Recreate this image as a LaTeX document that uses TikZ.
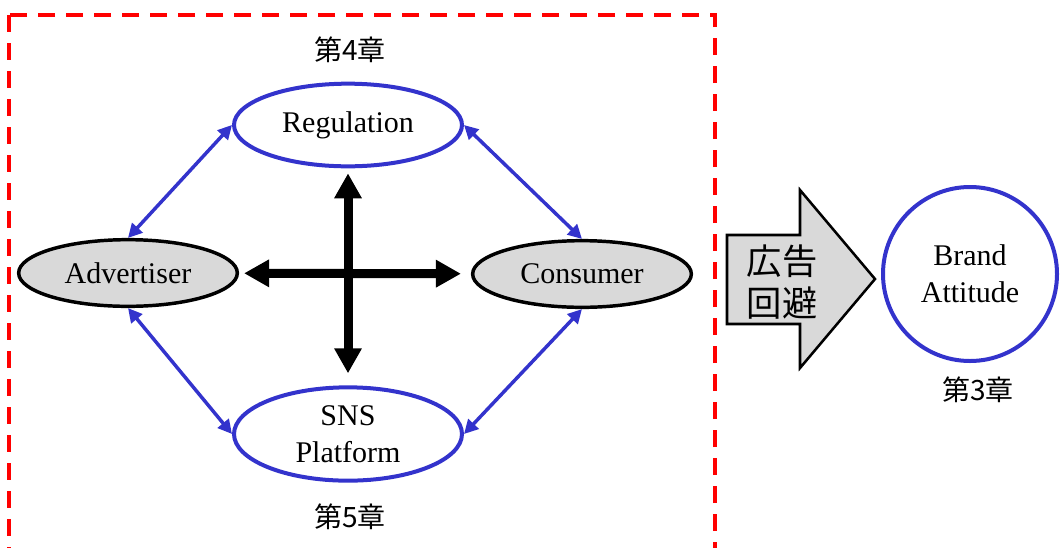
\documentclass[tikz,border=0pt]{standalone}
\usepackage{fontspec}
\setmainfont{Liberation Serif}
\newfontfamily\jpfont{Noto Sans CJK JP}
\usetikzlibrary{shapes.geometric,arrows.meta}

\definecolor{linkblue}{RGB}{51,51,204}
\definecolor{boxred}{RGB}{255,0,0}
\definecolor{agentgray}{RGB}{217,217,217}

\begin{document}
\begin{tikzpicture}[x=0.75pt,y=-0.75pt,
  txt/.style={font=\fontsize{22.5pt}{28pt}\selectfont, align=center},
  chap/.style={font=\jpfont\fontsize{21pt}{25pt}\selectfont, inner sep=0pt},
  bluering/.style={ellipse, draw=linkblue, line width=3pt, fill=white, inner sep=0pt, txt},
  agent/.style={ellipse, draw=black, line width=2.6pt, fill=agentgray, inner sep=0pt, txt,
    minimum width=164pt, minimum height=50pt},
  link/.style={draw=linkblue, line width=2.6pt,
    {Triangle[length=10.5pt,width=10.5pt]}-{Triangle[length=10.5pt,width=10.5pt]}},
  bigarrow/.style={draw=black, line width=6.75pt,
    {Triangle[length=18.75pt,width=19.5pt]}-{Triangle[length=18.75pt,width=19.5pt]}},
  blockarrow/.style={draw=black, fill=agentgray, line width=1.9pt, line join=miter},
  studyframe/.style={draw=boxred, line width=2.6pt, dash pattern=on 12.75pt off 8.25pt}
]
\clip (0,0) rectangle (1060,547);

% dashed frame around the four actors (open at the bottom)
\draw[studyframe] (9,15) rectangle (715,620);

% actors
\node[bluering, minimum width=171pt, minimum height=62pt] (reg) at (348,125) {Regulation};
\node[bluering, minimum width=171pt, minimum height=70pt] (sns) at (348,434) {SNS\\Platform};
\node[agent] (adv) at (128,273) {Advertiser};
\node[agent] (con) at (582,274) {Consumer};

% chapter labels
\node[chap] (ch4) at (350,50) {第4章};
\node[chap] (ch5) at (350,517) {第5章};

% mutual influences
\draw[link] (reg.west) -- (adv.north);
\draw[link] (reg.east) -- (con.north);
\draw[link] (adv.south) -- (sns.west);
\draw[link] (con.south) -- (sns.east);

\draw[bigarrow, shorten <=3.75pt, shorten >=9pt] (reg) -- (sns);
\draw[bigarrow, shorten <=3.75pt, shorten >=7.5pt] (adv) -- (con);

% ad avoidance leading to brand attitude
\draw[blockarrow] (727,235) -- (800,235) -- (800,190) -- (875,279)
  -- (800,368) -- (800,324) -- (727,324) -- cycle;
\node[font=\jpfont\fontsize{26.5pt}{31.5pt}\selectfont, align=center, inner sep=0pt]
  (avoid) at (782,282) {広告\\回避};

\node[circle, draw=linkblue, line width=3pt, fill=white, inner sep=0pt, txt,
  minimum size=130.5pt] (brand) at (970,274) {Brand\\Attitude};
\node[chap] (ch3) at (978,390) {第3章};
\end{tikzpicture}
\end{document}
